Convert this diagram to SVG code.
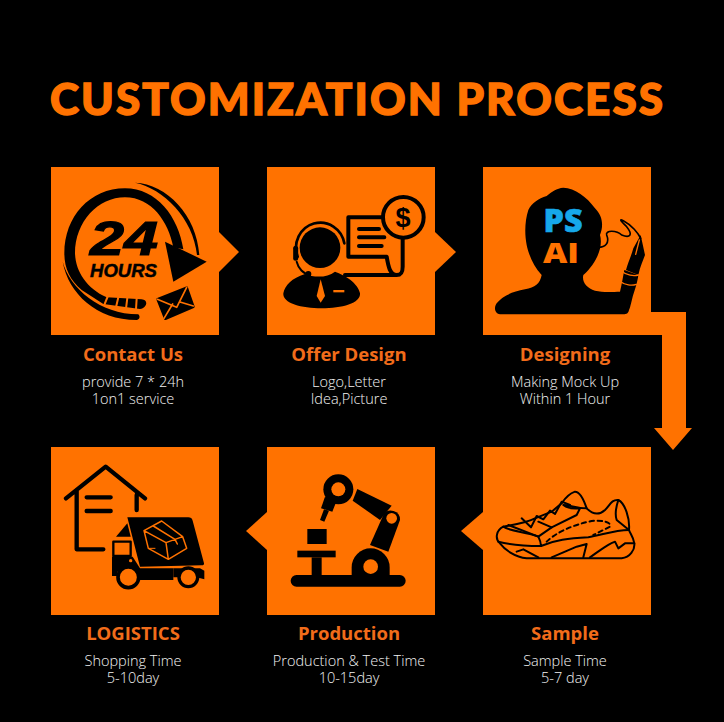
<svg xmlns="http://www.w3.org/2000/svg" width="724" height="722" viewBox="0 0 724 722">
<style>
.sq{fill:#ff7200}
.k{fill:#000}
.o{fill:#ff7200}
.ks{fill:none;stroke:#000;stroke-linecap:round;stroke-linejoin:round}
.os{fill:none;stroke:#ff7200;stroke-linecap:round;stroke-linejoin:round}
.h{font-family:"Open Sans","Noto Sans",sans-serif;font-weight:700;font-size:18.5px;fill:#f26c1a;text-anchor:middle}
.t{font-family:"Open Sans","Noto Sans",sans-serif;font-weight:300;font-size:14.5px;fill:#f2f2f2;text-anchor:middle}
</style>
<rect width="724" height="722" fill="#000"/>
<text id="title" x="50" y="114.500" font-family="Lato,'Liberation Sans',sans-serif" font-weight="900" font-size="44" fill="#ff7200" stroke="#ff7200" stroke-width="1.4" textLength="613" lengthAdjust="spacing">CUSTOMIZATION PROCESS</text>
<g id="connectors" class="o">
<polygon points="219,232 239,252 219,272"/>
<polygon points="435,232 456,252 435,272"/>
<polygon points="651,312 686,312 686,428 692,428 673,450 654,428 662,428 662,335 651,335"/>
<polygon points="483,512 461,531 483,550"/>
<polygon points="267,512 246,531 267,550"/>
</g>
<g id="node-contact">
<rect class="sq" x="51" y="167" width="168" height="168"/>
<g transform="translate(40 160) scale(.33333)">
<path class="k" d="M430,268C415,170 350,85 255,85C150,85 73,170 73,280C73,325 90,360 125,390L190,432L300,447C322,442 326,420 305,418L200,412C140,385 107,335 105,280C105,185 175,112 255,112C335,112 385,185 400,262Z"/>
<path class="os" stroke-width="6" d="M205,405L192,437M235,412L228,442M262,414L258,446M290,416L288,448"/>
<path class="k" d="M68,305C90,385 180,462 295,463C302,470 298,480 290,480C170,480 85,400 68,305Z"/>
<path class="k" d="M285,68C380,72 470,165 478,285L471,285C460,175 370,85 285,68Z"/>
<polygon class="k" points="375,245 500,305 400,365"/>
<path class="k" stroke="#000" stroke-width="8" stroke-linejoin="round" d="M353,418L440,383L460,440L376,476Z"/>
<path class="os" stroke-width="5" d="M352,418L410,442L440,382M372,475L398,432M460,438L420,426"/>
</g>
<text x="90" y="255" font-family="'Liberation Sans',sans-serif" font-weight="700" font-style="italic" font-size="48" textLength="68" lengthAdjust="spacingAndGlyphs" stroke="#000" stroke-width="1.2">24</text>
<text x="90" y="277" font-family="'Liberation Sans',sans-serif" font-weight="700" font-style="italic" font-size="19" textLength="67" lengthAdjust="spacingAndGlyphs" stroke="#000" stroke-width=".5">HOURS</text>
</g>
<g id="node-offer">
<rect class="sq" x="267" y="167" width="168" height="168"/>
<g transform="translate(255 160) scale(.33333)">
<circle class="k" cx="195" cy="263" r="61"/>
<path class="ks" stroke-width="8" d="M128,290A73,75 0 1 1 268,250"/>
<path class="ks" stroke-width="15" d="M122,265V295"/>
<path class="ks" stroke-width="6" d="M125,305C130,325 145,342 165,345"/>
<circle class="k" cx="160" cy="342" r="9"/>
<path class="k" d="M85,400C90,375 110,355 150,342C175,352 215,355 240,335C270,345 310,370 315,400C318,430 260,445 200,445C140,445 82,430 85,400Z"/>
<polygon class="o" points="197,358 210,408 197,428 185,408"/>
<rect class="o" x="235" y="390" width="33" height="7"/>
<path class="ks" stroke-width="12" d="M385,172H280V290H395C400,320 405,345 425,345C440,345 443,335 443,320V235M270,345H425"/>
<path class="ks" stroke-width="12" d="M312,207H372M312,232H388M312,258H380"/>
<circle cx="445" cy="172" r="61" fill="#ff7200" stroke="#000" stroke-width="12"/>
</g>
<text x="403" y="227" text-anchor="middle" font-family="'Liberation Sans',sans-serif" font-weight="700" font-size="27">$</text>
</g>
<g id="node-designing">
<rect class="sq" x="483" y="167" width="168" height="168"/>
<g transform="translate(475 160) scale(.33333)">
<path class="k" d="M265,83C300,85 335,110 360,145C385,170 385,200 375,225C385,260 365,310 325,345C320,365 335,385 360,392C385,398 415,395 435,395C440,375 445,345 448,330L490,345C488,365 478,395 473,410C468,430 465,445 462,450C460,460 455,463 445,463H80C60,463 55,445 65,430C80,410 110,395 150,388C180,382 195,372 200,345C175,320 160,280 155,255C148,220 150,180 160,150C170,130 190,115 215,108C230,95 245,85 265,83Z"/>
<path class="k" d="M453,330C458,310 468,290 475,265L497,225L510,285C505,300 495,320 490,345Z"/>
<path class="ks" stroke-width="5" d="M370,262C390,262 405,250 395,225C390,210 425,210 440,225C465,235 475,225 455,200C440,185 430,175 445,182C470,195 490,220 497,235"/>
<path class="os" stroke-width="4" d="M442,335C455,345 475,350 490,345M437,365C450,375 470,378 484,373M493,240L482,283"/>
</g>
<text x="563" y="232" text-anchor="middle" font-family="'Open Sans','Noto Sans',sans-serif" font-weight="800" font-size="32" fill="#16a8ea" stroke="#16a8ea" stroke-width=".6" textLength="39" lengthAdjust="spacingAndGlyphs">PS</text>
<text x="561" y="263" text-anchor="middle" font-family="'Open Sans','Noto Sans',sans-serif" font-weight="800" font-size="28" fill="#ff7200" textLength="36" lengthAdjust="spacingAndGlyphs">AI</text>
</g>
<g id="node-sample">
<rect class="sq" x="483" y="447" width="168" height="168"/>
<g transform="translate(455 440) scale(.33333)">
<g class="ks" stroke-width="6">
<path d="M145,260C125,270 118,295 135,310C150,330 180,352 215,355H500C525,352 540,330 538,310C535,290 525,280 522,270C525,235 510,190 490,180C470,178 465,195 450,210C430,228 410,220 395,205C385,175 375,155 360,155C345,160 330,175 320,190L290,215L240,235C210,250 170,255 145,260Z"/>
<path d="M145,260C165,275 215,275 250,290C255,300 258,312 258,318C300,300 340,295 400,292C440,285 480,270 522,270"/>
<path d="M160,255L250,290L290,262L250,245"/>
<path d="M130,305C170,315 210,318 258,318M185,335L205,328L250,352M290,352L365,320L395,312L385,352M405,352C430,335 460,310 480,305L490,325L510,310L538,310"/>
<path d="M200,235L228,262L245,228L265,238L285,212L300,222L320,185L345,195"/>
<path d="M325,195C345,210 365,205 375,205L365,225L290,262M395,205C365,205 345,195 325,195"/>
<path d="M490,180C480,210 480,225 485,240L522,270"/>
</g>
<path class="ks" stroke-width="6" stroke-dasharray="13 11" d="M275,305C300,280 350,255 410,243C440,240 470,245 465,260L415,285"/>
</g>
</g>
<g id="node-production">
<rect class="sq" x="267" y="447" width="168" height="168"/>
<g transform="translate(245 440) scale(.33333)">
<rect class="k" x="137" y="405" width="345" height="35" rx="17.500"/>
<rect class="k" x="157" y="332" width="115" height="20"/>
<rect class="k" x="200" y="352" width="30" height="55"/>
<rect class="k" x="187" y="267" width="58" height="45"/>
<path class="k" d="M320,406V382A57,57 0 0 1 434,382V406Z"/>
<circle class="o" cx="377" cy="380" r="22"/>
<circle class="k" cx="280" cy="148" r="45"/>
<circle class="o" cx="280" cy="148" r="21"/>
<polygon class="k" points="240,170 228,205 262,215 272,190"/>
<polygon class="k" points="237,208 225,240 238,245 252,212"/>
<polygon class="k" points="337,147 440,197 405,240 323,182"/>
<path class="k" d="M415,225A27,27 0 0 1 465,240L430,335L375,315Z"/>
<circle class="o" cx="440" cy="235" r="16"/>
</g>
</g>
<g id="node-logistics">
<rect class="sq" x="51" y="447" width="168" height="168"/>
<g transform="translate(40 440) scale(.33333)">
<path class="ks" stroke-width="13" d="M78,175L197,80L315,175M110,150V328H190M290,165V210M140,172H212M140,213H212"/>
<path class="k" d="M262,232H445Q455,232 458,242L492,370Q493,376 485,376L300,380Z"/>
<polygon class="k" points="228,290 262,250 272,290"/>
<path class="ks" stroke-width="7" d="M220,305H272V348H220Z"/>
<path class="k" d="M216,350H278L300,385H400V420H300L290,395H232V408H216Z"/>
<circle class="o" cx="272" cy="362" r="5"/>
<path class="k" d="M400,385H480L493,392V418L470,412H400Z"/>
<circle cx="265" cy="412" r="31" fill="#ff7200" stroke="#000" stroke-width="11"/>
<circle cx="445" cy="412" r="28" fill="#ff7200" stroke="#000" stroke-width="10"/>
<path class="os" stroke-width="4.500" d="M312,272L365,243L428,290L440,325L385,358L325,325ZM312,272L378,308L428,290M378,308L385,358M340,258L405,298L412,312"/>
<path class="os" stroke-width="3" d="M328,325H345"/>
</g>
</g>
<g id="labels">
<text class="h" x="133" y="361">Contact Us</text>
<text class="t" x="133" y="387">provide 7 * 24h</text>
<text class="t" x="133" y="404">1on1 service</text>
<text class="h" x="349" y="361">Offer Design</text>
<text class="t" x="349" y="387">Logo,Letter</text>
<text class="t" x="349" y="404">Idea,Picture</text>
<text class="h" x="565" y="361">Designing</text>
<text class="t" x="565" y="387">Making Mock Up</text>
<text class="t" x="565" y="404">Within 1 Hour</text>
<text class="h" x="133" y="640">LOGISTICS</text>
<text class="t" x="133" y="666">Shopping Time</text>
<text class="t" x="133" y="683">5-10day</text>
<text class="h" x="349" y="640">Production</text>
<text class="t" x="349" y="666">Production &amp; Test Time</text>
<text class="t" x="349" y="683">10-15day</text>
<text class="h" x="565" y="640">Sample</text>
<text class="t" x="565" y="666">Sample Time</text>
<text class="t" x="565" y="683">5-7 day</text>
</g>
</svg>
